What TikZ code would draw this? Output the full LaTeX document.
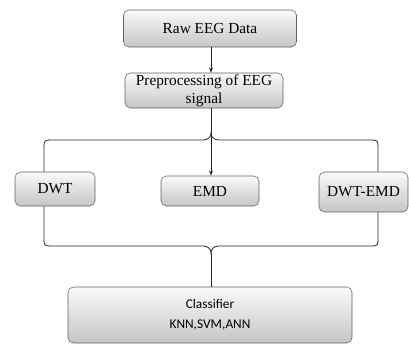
\documentclass[tikz,border=0pt]{standalone}
\usepackage{fontspec}
\newfontfamily\boxfont{Liberation Serif}
\newfontfamily\clsfont{Carlito}
\usetikzlibrary{arrows.meta}
\tikzset{
  stage/.style={draw=gray!75!black, rounded corners=4pt, top color=gray!4, bottom color=gray!45,
    align=center, inner sep=0pt, font=\boxfont\fontsize{11.5}{13.8}\selectfont},
  link/.style={draw=black!85, line width=0.6pt},
  tip/.style={-{Stealth[length=4pt,width=3pt]}},
}
\begin{document}
\begin{tikzpicture}[x=0.75pt,y=-0.75pt]
    \useasboundingbox (0,0) rectangle (409,344);
    \node[stage, minimum width=129.75pt, minimum height=27.75pt] (raw) at (210,28.5) {Raw EEG Data};
    \node[stage, minimum width=118.5pt, minimum height=26.25pt] (prep) at (204,90.5) {Preprocessing of EEG\\signal};
    \node[stage, minimum width=60pt, minimum height=25.5pt] (dwt) at (55,189) {DWT};
    \node[stage, minimum width=73.5pt, minimum height=22.5pt] (emd) at (210,191) {EMD};
    \node[stage, minimum width=66.75pt, minimum height=30pt] (dwtemd) at (363.5,192) {DWT-EMD};
    \node[stage, minimum width=213pt, minimum height=42pt, font=\clsfont\fontsize{10}{15}\selectfont] (cls) at (210,315) {Classifier\\KNN,SVM,ANN};
    \coordinate (spine) at (211,0);
    \coordinate (bl) at (44,0);
    \coordinate (br) at (378,0);
    \coordinate (peak) at (211,133);
    \coordinate (join) at (211,253);
    \draw[link,tip] (raw.south -| spine) -- (prep.north -| spine);
    \draw[link,tip] (prep.south -| spine) -- (emd.north -| spine);
    % upper brace
    \draw[link] (dwt.north -| bl) -- (44,146) .. controls (44,141) and (45,140) .. (50,140) -- (203,140)
        .. controls (208,140) and (211,137) .. (peak) .. controls (211,137) and (214,140) .. (219,140)
        -- (372,140) .. controls (377,140) and (378,141) .. (378,146) -- (dwtemd.north -| br);
    % lower brace
    \draw[link] (dwt.south -| bl) -- (44,240) .. controls (44,245) and (45,246) .. (50,246) -- (203,246)
        .. controls (208,246) and (211,249) .. (join) .. controls (211,249) and (214,246) .. (219,246)
        -- (372,246) .. controls (377,246) and (378,245) .. (378,240) -- (dwtemd.south -| br);
    \draw[link] (join) -- (cls.north -| spine);
\end{tikzpicture}
\end{document}
